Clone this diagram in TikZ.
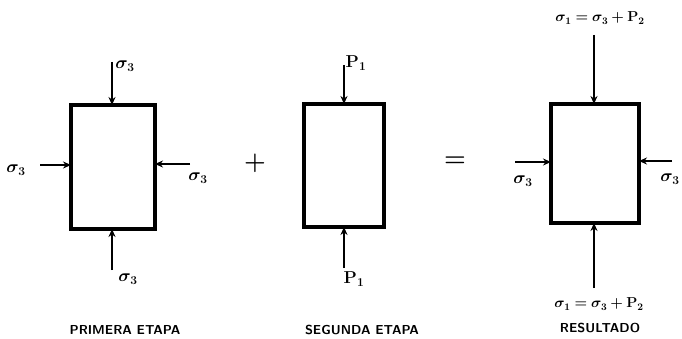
\documentclass[tikz,border=0pt]{standalone}
\usepackage{amsmath,bm}
\usetikzlibrary{arrows.meta}
\begin{document}
\begin{tikzpicture}[x=1pt,y=-1pt,
  blk/.style={draw,line width=3.2pt},
  force/.style={line width=2.2pt,-{Stealth[length=8pt,width=7pt]}},
  lbl/.style={inner sep=0pt,font=\fontsize{17}{19}\selectfont},
  small/.style={inner sep=0pt,font=\fontsize{14}{16}\selectfont},
  title/.style={inner sep=0pt,font=\sffamily\bfseries\fontsize{13}{15}\selectfont}]
\useasboundingbox (0,0) rectangle (682,339);
% box 1
\draw[blk] (71,105) rectangle (155,229);
\coordinate (b1t) at (112,105); \coordinate (b1b) at (112,229);
\coordinate (b1l) at (71,165); \coordinate (b1r) at (155,164);
\coordinate (a1t) at (112,62); \coordinate (a1b) at (112,270);
\coordinate (a1l) at (40,165); \coordinate (a1r) at (190,164);
\draw[force] (a1t) -- (b1t);
\draw[force] (a1b) -- (b1b);
\draw[force] (a1l) -- (b1l);
\draw[force] (a1r) -- (b1r);
\node[lbl] (l1t) at (125,66) {$\bm{\sigma}_{\mathbf 3}$};
\node[lbl] (l1l) at (16,170) {$\bm{\sigma}_{\mathbf 3}$};
\node[lbl] (l1r) at (198,178) {$\bm{\sigma}_{\mathbf 3}$};
\node[lbl] (l1b) at (128,279) {$\bm{\sigma}_{\mathbf 3}$};
\node[title] (t1) at (125,330) {PRIMERA ETAPA};
% plus
\node[font=\fontsize{26}{28}\selectfont] (plus) at (255,163) {$\bm{+}$};
% box 2
\draw[blk] (304,104) rectangle (384,227);
\coordinate (b2t) at (344,104); \coordinate (b2b) at (344,227);
\coordinate (a2t) at (344,65); \coordinate (a2b) at (344,268);
\draw[force] (a2t) -- (b2t);
\draw[force] (a2b) -- (b2b);
\node[lbl] (l2t) at (356,63) {$\mathbf{P}_{\mathbf 1}$};
\node[lbl] (l2b) at (354,279) {$\mathbf{P}_{\mathbf 1}$};
\node[title] (t2) at (362,330) {SEGUNDA ETAPA};
% equals
\node[font=\fontsize{26}{28}\selectfont] (eq) at (455,162) {$\bm{=}$};
% box 3
\draw[blk] (551,104) rectangle (639,223);
\coordinate (b3t) at (594,104); \coordinate (b3b) at (594,223);
\coordinate (b3l) at (551,162); \coordinate (b3r) at (639,161);
\coordinate (a3t) at (594,35); \coordinate (a3b) at (594,288);
\coordinate (a3l) at (515,162); \coordinate (a3r) at (672,161);
\draw[force] (a3t) -- (b3t);
\draw[force] (a3b) -- (b3b);
\draw[force] (a3l) -- (b3l);
\draw[force] (a3r) -- (b3r);
\node[small] (l3t) at (600,18) {$\bm{\sigma}_{\mathbf 1}\bm{=}\bm{\sigma}_{\mathbf 3}\bm{+}\mathbf{P}_{\mathbf 2}$};
\node[small] (l3b) at (599,304) {$\bm{\sigma}_{\mathbf 1}\bm{=}\bm{\sigma}_{\mathbf 3}\bm{+}\mathbf{P}_{\mathbf 2}$};
\node[lbl] (l3l) at (523,181) {$\bm{\sigma}_{\mathbf 3}$};
\node[lbl] (l3r) at (670,179) {$\bm{\sigma}_{\mathbf 3}$};
\node[title] (t3) at (600,328) {RESULTADO};
\end{tikzpicture}
\end{document}
